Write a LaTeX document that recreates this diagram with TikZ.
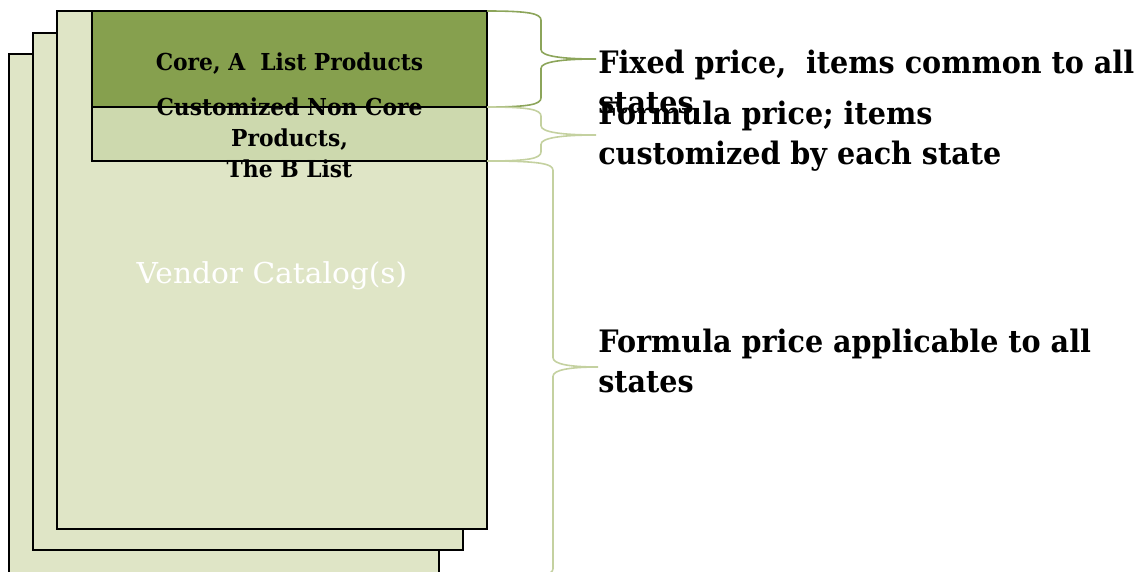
\documentclass[tikz,border=0pt]{standalone}
\usepackage{fontspec}
\setmainfont{DejaVu Serif}
\newfontfamily\lblfont[FakeStretch=0.925]{DejaVu Serif}
\newfontfamily\boxfont[FakeStretch=0.935]{DejaVu Serif}
\newfontfamily\vendfont[FakeStretch=1.03]{DejaVu Serif}
\usetikzlibrary{calc}
\definecolor{sheetfill}{HTML}{DFE5C6}
\definecolor{corefill}{HTML}{86A04E}
\definecolor{bfill}{HTML}{CDD9AE}
\definecolor{braceA}{HTML}{8CA55A}
\definecolor{braceB}{HTML}{C4D1A0}
\newcommand\curlybrace[5][]{%
  \draw[#1] let \p1=(#2), \p2=(#3), \p3=(#4), \p4=(#5) in
   (\p1) .. controls ({\x1+0.8*(\x4-\x1)},\y1) and (\x4,{\y1-2pt}) .. (\x4,{\y1-7pt})
   -- (\x4,{\y3+7pt}) .. controls (\x4,{\y3+2pt}) and ({\x4+0.4*(\x3-\x4)},\y3) .. (\p3)
   .. controls ({\x4+0.4*(\x3-\x4)},\y3) and (\x4,{\y3-2pt}) .. (\x4,{\y3-7pt})
   -- (\x4,{\y2+7pt}) .. controls (\x4,{\y2+2pt}) and ({\x1+0.8*(\x4-\x1)},\y2) .. (\p2);}
\tikzset{
  sheet/.style={draw=black, fill=sheetfill, line width=1.5pt, anchor=north west,
    inner sep=0pt, outer sep=0pt, minimum width=322.5pt},
  band/.style={draw=black, line width=1.5pt, anchor=north west,
    inner sep=0pt, outer sep=0pt, minimum width=296.25pt},
  boxtext/.style={anchor=base, inner sep=0pt, font=\boxfont\bfseries\fontsize{17.5}{23.25}\selectfont},
  sidetext/.style={anchor=base west, inner sep=0pt, font=\lblfont\bfseries\fontsize{23.2}{30}\selectfont},
  bracelineA/.style={draw=braceA, line width=1.2pt},
  bracelineB/.style={draw=braceB, line width=1.2pt},
}
\begin{document}
\begin{tikzpicture}[x=0.75pt,y=-0.75pt]
\useasboundingbox (0,0) rectangle (1144,571);
\clip (0,0) rectangle (1144,571);
\node[sheet, minimum height=397.5pt] (back) at (9,54) {};
\node[sheet, minimum height=387.75pt] (mid) at (33,33) {};
\node[sheet, minimum height=388.5pt] (front) at (57,11) {};
\node[band, fill=corefill, minimum height=72pt] (core) at (92,11) {};
\node[band, fill=bfill, minimum height=40.5pt] (blist) at (92,107) {};
\node[boxtext] (coretext) at (289.5,70) {Core, A\ \ List Products};
\node[boxtext] (btext) at (289.5,115) {\begin{tabular}[t]{@{}c@{}}Customized Non Core\\ Products,\\ The B List\end{tabular}};
\node[anchor=base, inner sep=0pt, text=white, font=\vendfont\fontsize{21.6}{26}\selectfont] (vendor) at (272,283) {Vendor Catalog(s)};
\node[sidetext] (lbl1) at (598,73) {\begin{tabular}[t]{@{}l@{}}Fixed price,\ \ items common to all\\ states\end{tabular}};
\node[sidetext] (lbl2) at (598,124) {\begin{tabular}[t]{@{}l@{}}Formula price; items\\ customized by each state\end{tabular}};
\node[sidetext] (lbl3) at (598,352) {\begin{tabular}[t]{@{}l@{}}Formula price applicable to all\\ states\end{tabular}};
\coordinate (t1) at (596,59);
\coordinate (m1) at (541,0);
\coordinate (t2) at (596,135);
\coordinate (m2) at (541,0);
\coordinate (t3) at (598,367);
\coordinate (m3) at (553,0);
\coordinate (b3) at (487,578);
\curlybrace[bracelineA]{core.north east}{core.south east}{t1}{m1}
\curlybrace[bracelineB]{blist.north east}{blist.south east}{t2}{m2}
\curlybrace[bracelineB]{blist.south east}{b3}{t3}{m3}
\end{tikzpicture}
\end{document}
